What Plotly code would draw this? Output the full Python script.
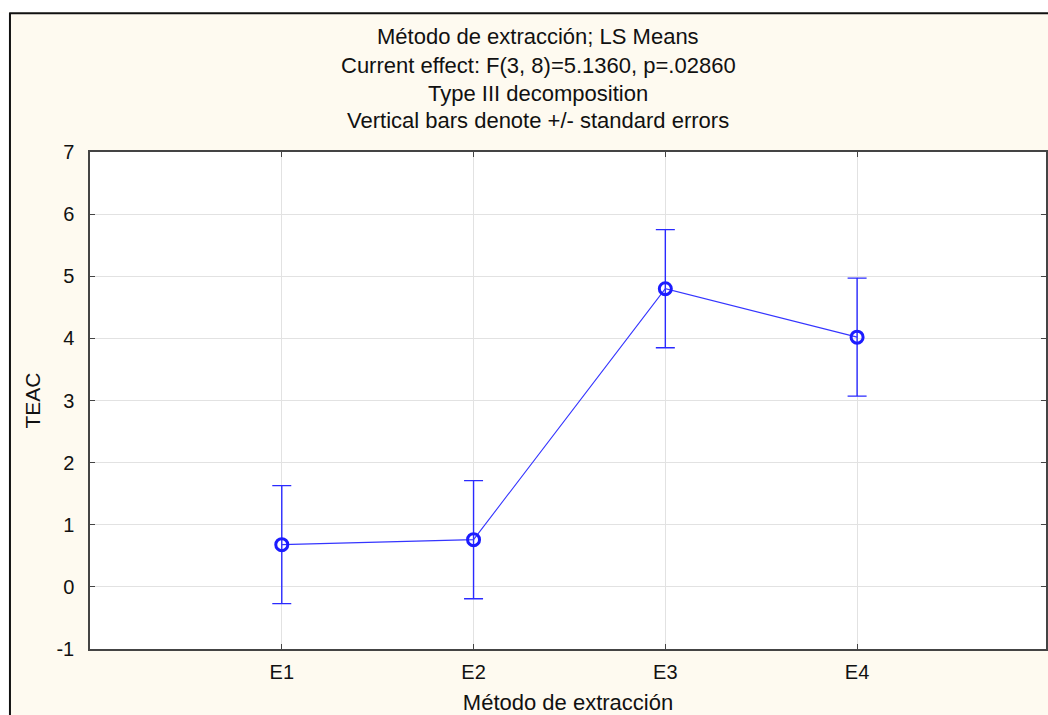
import plotly.graph_objects as go

# LS means of TEAC by extraction method, with pooled standard errors
methods = ["E1", "E2", "E3", "E4"]
teac_mean = [0.68, 0.76, 4.80, 4.02]
teac_se = [0.95, 0.95, 0.95, 0.95]

y_ticks = [-1, 0, 1, 2, 3, 4, 5, 6, 7]
y_tick_labels = ["-1", "0", "1", "2", "3", "4", "5", "6", "7"]

title_lines = [
    "Método de extracción; LS Means",
    "Current effect: F(3, 8)=5.1360, p=.02860",
    "Type III decomposition",
    "Vertical bars denote +/- standard errors",
]

W, H = 1048, 715
M_L, M_R, M_T, M_B = 90, 0, 152, 66
PLOT_W = W - M_L - M_R
PLOT_H = H - M_T - M_B


def px_x(p):
    return (p - M_L) / PLOT_W


def px_y(p):
    return (H - M_B - p) / PLOT_H


BLUE = "#1c1cff"
CREAM = "#fefaf0"
FONT = "Liberation Sans, Arial, sans-serif"
INK = "#111111"

fig = go.Figure()
fig.add_trace(go.Scatter(
    x=methods,
    y=teac_mean,
    mode="lines+markers",
    line=dict(color="#3535ff", width=1.1),
    marker=dict(symbol="circle-open", size=12, color=BLUE, line=dict(width=3, color=BLUE)),
    error_y=dict(type="data", array=teac_se, visible=True, color="#2a2aff", thickness=1.4, width=9.5),
    showlegend=False,
))

axis_common = dict(
    showline=True, linecolor="#444444", linewidth=1.5, mirror="ticks",
    ticks="inside", ticklen=5, tickcolor="#444444",
    showgrid=True, gridcolor="#e2e2e2", gridwidth=1, zeroline=False,
    tickfont=dict(family=FONT, size=20, color=INK),
)

# Categories sit one unit apart; the right end of the panel runs just past the page edge
fig.update_xaxes(
    range=[-1, 3.985], **axis_common, ticklabelstandoff=4,
    title=dict(text="Método de extracción", font=dict(family=FONT, size=22, color=INK), standoff=15),
)
fig.update_yaxes(
    range=[-1, 7], tickvals=y_ticks, ticktext=y_tick_labels, **axis_common, ticklabelstandoff=10,
    title=dict(text="TEAC", font=dict(family=FONT, size=21, color=INK), standoff=10),
)

title_y = [37, 66, 94, 121]
for line, yp in zip(title_lines, title_y):
    fig.add_annotation(
        text=line, xref="paper", yref="paper", x=px_x(539), y=px_y(yp),
        xanchor="center", yanchor="middle", showarrow=False,
        font=dict(family=FONT, size=22, color=INK),
    )

# White strip outside the framed panel, then the frame edges
fig.add_shape(type="rect", xref="paper", yref="paper",
              x0=px_x(-5), x1=px_x(W + 5), y0=px_y(12.5), y1=px_y(-5),
              fillcolor="white", line=dict(width=0), layer="above")
fig.add_shape(type="rect", xref="paper", yref="paper",
              x0=px_x(-5), x1=px_x(9), y0=px_y(H + 5), y1=px_y(12.5),
              fillcolor="white", line=dict(width=0), layer="above")
fig.add_shape(type="line", xref="paper", yref="paper",
              x0=px_x(9), x1=px_x(W + 5), y0=px_y(13.2), y1=px_y(13.2),
              line=dict(color=INK, width=2), layer="above")
fig.add_shape(type="line", xref="paper", yref="paper",
              x0=px_x(9.8), x1=px_x(9.8), y0=px_y(H + 5), y1=px_y(13),
              line=dict(color=INK, width=2), layer="above")

fig.update_layout(
    width=W, height=H,
    margin=dict(l=M_L, r=M_R, t=M_T, b=M_B, pad=0),
    paper_bgcolor=CREAM, plot_bgcolor="white",
    font=dict(family=FONT, color=INK),
)

fig.write_html("out.html")
